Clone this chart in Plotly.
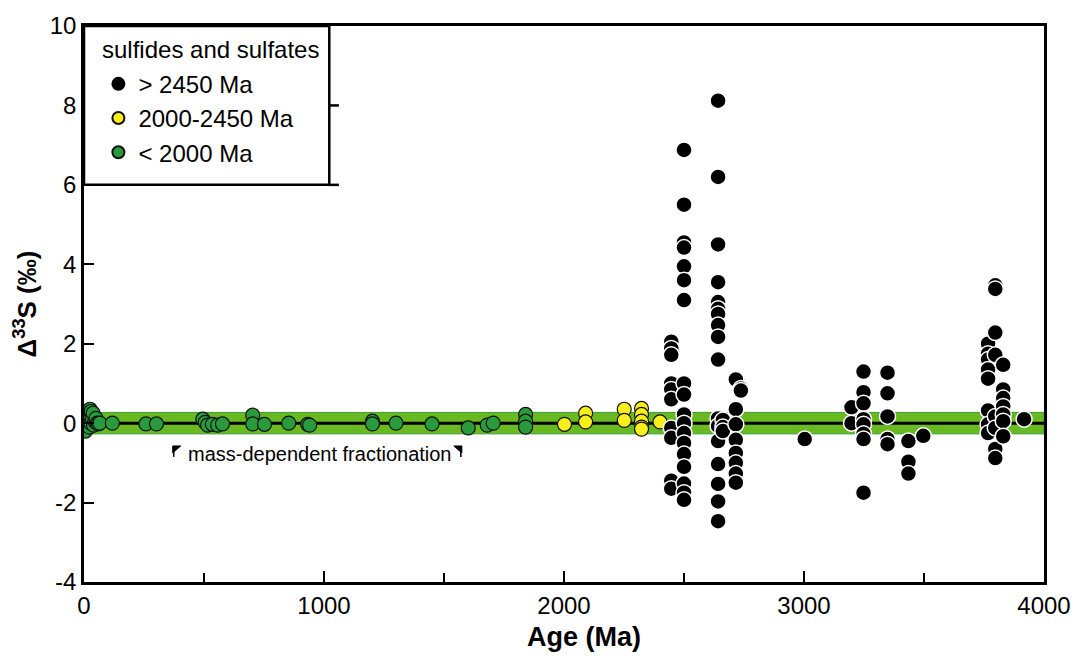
import plotly.graph_objects as go

# ---------------- data ----------------
age_green = [0, 2, 4, 6, 8, 10, 12, 15, 18, 20, 22, 25, 28, 30, 35, 38, 40, 45, 50, 55, 60, 66,
             118, 258, 302, 495, 505, 515, 535, 557, 577, 703, 703, 752, 853, 932, 940,
             1202, 1202, 1300, 1450, 1601, 1680, 1705, 1840, 1840, 1840]
d33_green = [0.0, -0.1, 0.1, -0.2, 0.05, 0.15, -0.05, 0.2, 0.1, 0.05, -0.1, 0.35, 0.0, 0.3, 0.1, 0.25,
             -0.05, 0.05, 0.12, 0.0, -0.02, 0.0,
             0.0, -0.02, -0.02, 0.1, 0.02, -0.05, -0.03, -0.05, -0.02, 0.2, -0.02, -0.03, 0.0, -0.03, -0.05,
             0.05, -0.02, 0.0, -0.02, -0.12, -0.05, 0.0, 0.22, 0.05, -0.1]

age_yellow = [2002, 2090, 2090, 2251, 2251, 2323, 2323, 2323, 2323, 2323, 2400]
d33_yellow = [-0.03, 0.25, 0.03, 0.35, 0.07, 0.37, 0.22, 0.05, -0.1, -0.15, 0.03]

age_black = ([2447] * 10 + [2500] * 18 + [2642] * 17 + [2662] * 3 + [2716] * 8 + [2737] * 2 +
             [3003] + [3198] * 2 + [3248] * 8 + [3348] * 5 + [3435] * 3 + [3497] +
             [3767] * 8 + [3797] * 8 + [3830] * 7 + [3917])
d33_black = ([2.05, 1.88, 1.72, 1.0, 0.85, 0.6, -0.12, -0.37, -1.45, -1.65] +
             [6.88, 5.5, 4.55, 4.42, 3.95, 3.6, 3.1, 1.0, 0.72, 0.22, 0.0, -0.25, -0.5, -0.78, -1.1, -1.52, -1.75, -1.93] +
             [8.12, 6.2, 4.5, 3.55, 3.05, 2.88, 2.75, 2.47, 2.17, 1.6, 0.12, -0.07, -0.45, -1.03, -1.53, -1.97, -2.47] +
             [0.08, -0.1, -0.2] +
             [1.1, 0.35, -0.03, -0.42, -0.75, -1.0, -1.27, -1.5] +
             [0.87, 0.82] +
             [-0.4] + [0.4, 0.0] +
             [1.3, 0.78, 0.5, 0.1, -0.03, -0.27, -0.4, -1.75] +
             [1.27, 0.75, 0.17, -0.4, -0.53] +
             [-0.45, -0.97, -1.27] + [-0.32] +
             [2.0, 1.75, 1.6, 1.35, 1.12, 0.32, -0.03, -0.25] +
             [3.47, 3.38, 2.28, 1.72, 0.17, -0.12, -0.65, -0.88] +
             [1.47, 0.85, 0.63, 0.42, 0.22, 0.05, -0.33] +
             [0.1])

mdf_band = 0.27
x_ticks = [0, 1000, 2000, 3000, 4000]
x_ticklabels = ["0", "1000", "2000", "3000", "4000"]
y_ticks = [-4, -2, 0, 2, 4, 6, 8, 10]
y_ticklabels = ["-4", "-2", "0", "2", "4", "6", "8", "10"]

FONT = "Liberation Sans, Arial, Helvetica, sans-serif"

fig = go.Figure()

fig.add_trace(go.Scatter(
    x=age_green, y=d33_green, mode="markers", name="< 2000 Ma", legendrank=3,
    marker=dict(size=14, color="#2a9b3c", line=dict(color="#111111", width=1.2))))
fig.add_trace(go.Scatter(
    x=age_yellow, y=d33_yellow, mode="markers", name="2000-2450 Ma", legendrank=2,
    marker=dict(size=14, color="#f7ee1c", line=dict(color="#111111", width=1.2))))
fig.add_trace(go.Scatter(
    x=age_black, y=d33_black, mode="markers", name="> 2450 Ma", showlegend=False,
    marker=dict(size=16, color="#000000", line=dict(color="#ffffff", width=1.5))))
# legend-only entry for the black series (solid dot, like the reference key)
fig.add_trace(go.Scatter(
    x=[None], y=[None], mode="markers", name="> 2450 Ma", legendrank=1,
    marker=dict(size=14, color="#000000", line=dict(color="#000000", width=1.2))))


def px_to_age(px):
    return (px - 84) / 0.24075


def py_to_val(py):
    return (422 - py) / 40.0


def arrow_glyph(tip_x, back_x):
    # small corner arrowhead with a short stem (decorative marker of the band)
    tri = "M {a0},{v0} L {a1},{v0} L {a0},{v1} Z".format(
        a0=px_to_age(tip_x), a1=px_to_age(back_x), v0=py_to_val(445), v1=py_to_val(452))
    stem_x = tip_x + (1 if back_x > tip_x else -1)
    stem = dict(type="line", xref="x", yref="y", x0=px_to_age(stem_x), x1=px_to_age(stem_x),
                y0=py_to_val(445), y1=py_to_val(456), line=dict(color="#000000", width=1.5))
    return [dict(type="path", xref="x", yref="y", path=tri, fillcolor="#000000",
                 line=dict(color="#000000", width=1)), stem]


shapes = [
    dict(type="rect", xref="x domain", yref="y", x0=0, x1=1, y0=-mdf_band, y1=mdf_band,
         fillcolor="#69b920", line=dict(color="#3a9a3a", width=1), layer="below"),
    dict(type="line", xref="x domain", yref="y", x0=0, x1=1, y0=0, y1=0,
         line=dict(color="#000000", width=3), layer="below"),
    # legend box
    dict(type="rect", xref="paper", yref="y", x0=0, x1=0.2555, y0=6, y1=10,
         fillcolor="#ffffff", line=dict(color="#000000", width=2.5), layer="above"),
    dict(type="line", xref="paper", yref="y", x0=0.2555, x1=0.2655, y0=8, y1=8,
         line=dict(color="#000000", width=2.5), layer="above"),
    dict(type="line", xref="paper", yref="y", x0=0.2555, x1=0.2655, y0=6, y1=6,
         line=dict(color="#000000", width=2.5), layer="above"),
] + arrow_glyph(173, 181) + arrow_glyph(463, 455)

annotations = [
    dict(x=px_to_age(321), y=py_to_val(453), xref="x", yref="y", text="mass-dependent fractionation",
         showarrow=False, font=dict(family=FONT, size=20, color="#000000")),
    dict(x=(100 - 84) / 963, y=py_to_val(46), xref="paper", yref="y", xanchor="left",
         text="sulfides and sulfates", showarrow=False,
         font=dict(family=FONT, size=24, color="#000000")),
    dict(x=(586 - 84) / 963, y=(582 - 637) / 560, xref="paper", yref="paper",
         xanchor="center", yanchor="middle", text="<b>Age (Ma)</b>", showarrow=False,
         font=dict(family=FONT, size=27, color="#000000")),
]

fig.update_layout(
    width=1083, height=663,
    margin=dict(l=84, r=36, t=22, b=81),
    paper_bgcolor="#ffffff", plot_bgcolor="#ffffff",
    font=dict(family=FONT, size=24, color="#000000"),
    shapes=shapes, annotations=annotations,
    showlegend=True,
    legend=dict(
        x=0.015, y=1 - (58 - 22) / 560, xanchor="left", yanchor="top",
        bgcolor="rgba(0,0,0,0)", borderwidth=0,
        font=dict(family=FONT, size=24, color="#000000"),
        traceorder="normal", itemsizing="constant",
    ),
    xaxis=dict(
        range=[0, 4000], tickvals=x_ticks, ticktext=x_ticklabels, ticks="inside", ticklen=11,
        tickwidth=2, tickcolor="#000000", showline=True, linecolor="#000000", linewidth=2.5,
        mirror=True, showgrid=False, zeroline=False,
        minor=dict(dtick=500, ticks="inside", ticklen=9, tickwidth=2, tickcolor="#000000"),
        tickfont=dict(size=24),
    ),
    yaxis=dict(
        range=[-4, 10], tickvals=y_ticks, ticktext=y_ticklabels, ticks="inside", ticklen=10,
        tickwidth=2, tickcolor="#000000", showline=True, linecolor="#000000", linewidth=2.5,
        mirror=True, showgrid=False, zeroline=False,
        title=dict(text="<b>Δ<sup>33</sup>S (‰)</b>", font=dict(size=26), standoff=6),
        tickfont=dict(size=24),
    ),
)

fig.write_html("out.html")
